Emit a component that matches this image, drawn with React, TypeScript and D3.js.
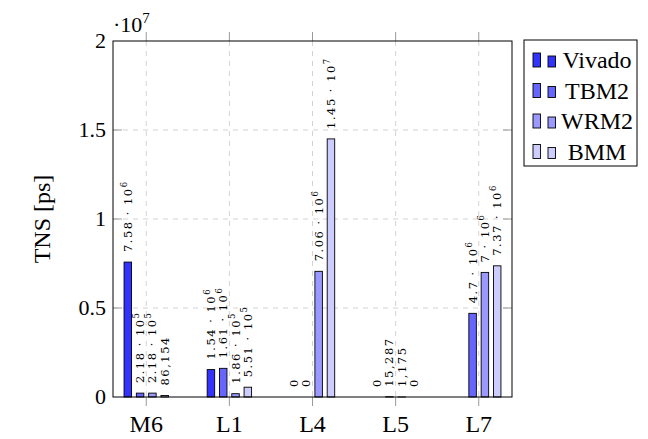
import React from 'react';
import * as d3 from 'd3';

const categories = ['M6', 'L1', 'L4', 'L5', 'L7'];
const series = ['Vivado', 'TBM2', 'WRM2', 'BMM'];
const colors = ['#3333ff', '#6666ff', '#9999ff', '#ccccff'];

// TNS per design, one array per tool (null = no bar)
const vivado = [7.58e6, 1.54e6, 0, 0, null];
const tbm2 = [2.18e5, 1.61e6, 0, 15287, 4.7e6];
const wrm2 = [2.18e5, 1.86e5, 7.06e6, 1175, 7e6];
const bmm = [86154, 5.51e5, 1.45e7, 0, 7.37e6];
const values = [vivado, tbm2, wrm2, bmm];

const yTicks = [0, 0.5e7, 1e7, 1.5e7, 2e7];
const yTickLabels = ['0', '0.5', '1', '1.5', '2'];

const W = 648;
const H = 439;
const margin = { left: 113, right: 136, top: 41, bottom: 42 };
const times = 'Liberation Serif';
const cm = 'DejaVu Serif';

// pgfplots-like label: 7.58·10^6 or 86,154
function fmt(v: number): [string, string | null] {
  if (v === 0) return ['0', null];
  if (v >= 1e5) {
    const e = Math.floor(Math.log10(v));
    const m = +(v / Math.pow(10, e)).toFixed(2);
    return [`${m} · 10`, String(e)];
  }
  return [d3.format(',')(v), null];
}

export default function App() {
  const x0 = margin.left;
  const x1 = W - margin.right;
  const y0 = H - margin.bottom;
  const y1 = margin.top;

  const x = d3.scalePoint<string>().domain(categories).range([x0, x1]).padding(0.4);
  const inner = d3.scaleBand<string>().domain(series).range([-24.6, 24.6]);
  const y = d3.scaleLinear().domain([0, 2e7]).range([y0, y1]);
  const barW = 7.5;

  const legendX = 524;
  const legendY = 40;
  const rowH = 30.5;

  return (
    <svg width={W} height={H} style={{ position: 'absolute', left: 0, top: 0, background: '#fff' }}>
      {/* grid */}
      <g stroke="#d3d3d3" strokeDasharray="5,5" strokeWidth={1}>
        {categories.map((c) => (
          <line key={c} x1={x(c)} x2={x(c)} y1={y1} y2={y0} />
        ))}
        {yTicks.slice(1, -1).map((t) => (
          <line key={t} x1={x0} x2={x1} y1={y(t)} y2={y(t)} />
        ))}
      </g>
      {/* ticks */}
      <g stroke="#9a9a9a" strokeWidth={1}>
        {categories.map((c) => (
          <g key={c}>
            <line x1={x(c)} x2={x(c)} y1={y0} y2={y0 + 9} />
            <line x1={x(c)} x2={x(c)} y1={y1} y2={y1 - 9} />
          </g>
        ))}
        {yTicks.slice(1, -1).map((t) => (
          <g key={t}>
            <line x1={x0} x2={x0 + 9} y1={y(t)} y2={y(t)} />
            <line x1={x1} x2={x1 - 9} y1={y(t)} y2={y(t)} />
          </g>
        ))}
      </g>
      {/* bars */}
      {series.map((s, si) => (
        <g key={s} fill={colors[si]} stroke="#000" strokeWidth={0.9}>
          {categories.map((c, ci) => {
            const v = values[si][ci];
            if (v === null) return null;
            const bx = (x(c) as number) + (inner(s) as number) + (inner.bandwidth() - barW) / 2;
            return <rect key={c} x={bx} y={y(v)} width={barW} height={y0 - y(v)} />;
          })}
        </g>
      ))}
      {/* value labels */}
      {series.map((s, si) => (
        <g key={s} fontFamily={cm} fontSize={11.5} fill="#000">
          {categories.map((c, ci) => {
            const v = values[si][ci];
            if (v === null) return null;
            const cx = (x(c) as number) + (inner(s) as number) + inner.bandwidth() / 2;
            const cy = y(v) - 10;
            const [base, exp] = fmt(v);
            return (
              <text
                key={c}
                transform={`translate(${cx},${cy}) rotate(-90)`}
                dominantBaseline="central"
                letterSpacing={1.5}
              >
                {base}
                {exp && (
                  <tspan dy={-4} fontSize={8.5}>
                    {exp}
                  </tspan>
                )}
              </text>
            );
          })}
        </g>
      ))}
      {/* frame */}
      <rect x={x0} y={y1} width={x1 - x0} height={y0 - y1} fill="none" stroke="#000" strokeWidth={1} />
      {/* y tick labels */}
      <g fontFamily={times} fontSize={22} textAnchor="end">
        {yTicks.map((t, i) => (
          <text key={t} x={106} y={y(t) + 7}>
            {yTickLabels[i]}
          </text>
        ))}
      </g>
      <text x={x0} y={32} fontFamily={times} fontSize={22}>
        ·10<tspan dy={-9} fontSize={15}>7</tspan>
      </text>
      {/* x tick labels */}
      <g fontFamily={times} fontSize={24} textAnchor="middle">
        {categories.map((c) => (
          <text key={c} x={x(c)} y={432}>
            {c}
          </text>
        ))}
      </g>
      {/* y axis label */}
      <text
        transform={`translate(50,${(y0 + y1) / 2}) rotate(-90)`}
        textAnchor="middle"
        fontFamily={times}
        fontSize={24}
      >
        TNS [ps]
      </text>
      {/* legend */}
      <rect x={legendX} y={legendY} width={113} height={126} fill="#fff" stroke="#000" strokeWidth={1} />
      {series.map((s, si) => {
        const cy = legendY + 20 + si * rowH;
        return (
          <g key={s}>
            <rect x={533} y={cy - 7} width={7.5} height={14} fill={colors[si]} stroke="#000" strokeWidth={0.9} />
            <rect x={548} y={cy - 4} width={7.5} height={11} fill={colors[si]} stroke="#000" strokeWidth={0.9} />
            <text x={597} y={cy + 8} textAnchor="middle" fontFamily={times} fontSize={24}>
              {s}
            </text>
          </g>
        );
      })}
    </svg>
  );
}
